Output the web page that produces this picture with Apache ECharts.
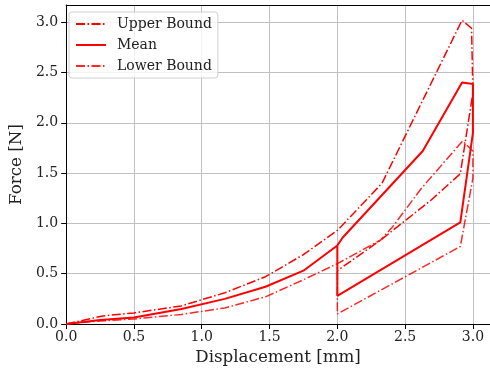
<!DOCTYPE html>
<html><head><meta charset="utf-8">
<script src="https://cdn.jsdelivr.net/npm/echarts@6/dist/echarts.min.js"></script>
<style>html,body{margin:0;padding:0;background:#fff}#c{width:490px;height:371px}</style>
</head><body><div id="c"></div>
<script>
const xTicks = [0, 0.5, 1.0, 1.5, 2.0, 2.5, 3.0];
const yTicks = [0, 0.5, 1.0, 1.5, 2.0, 2.5, 3.0];
const upperX = [0, 0.27, 0.5, 0.85, 1.17, 1.47, 1.75, 2.0, 2.33, 2.92, 2.99, 3.0, 2.907, 2.69, 2.32, 2.0];
const upperY = [0, 0.08, 0.11, 0.18, 0.31, 0.47, 0.69, 0.93, 1.40, 3.02, 2.94, 2.3, 1.494, 1.23, 0.835, 0.53];
const meanX = [0, 0.25, 0.5, 0.85, 1.17, 1.47, 1.75, 2.0, 2.04, 2.63, 2.92, 3.0, 3.0, 2.907, 2.0, 2.0];
const meanY = [0, 0.04, 0.065, 0.15, 0.25, 0.37, 0.53, 0.78, 0.86, 1.72, 2.40, 2.385, 1.9, 1.01, 0.28, 0.78];
const lowerX = [0, 0.25, 0.5, 0.85, 1.17, 1.47, 1.75, 2.0, 2.32, 2.41, 2.615, 2.924, 3.0, 3.0, 2.907, 2.0, 2.0];
const lowerY = [0, 0.03, 0.05, 0.095, 0.16, 0.27, 0.44, 0.6, 0.835, 0.97, 1.34, 1.82, 1.72, 1.45, 0.77, 0.1, 0.6];

const pairs = (xs, ys) => xs.map((x, i) => [x, ys[i]]);
const FONT = 'DejaVu Serif';
const dashDot = [9, 2.5, 1.5, 2.5];
const chart = echarts.init(document.getElementById('c'), null, {renderer: 'canvas'});
const fmt = v => v.toFixed(1);
chart.setOption({
  animation: false,
  backgroundColor: '#fff',
  grid: {left: 62, right: 0, top: 5, bottom: 47, containLabel: false},
  legend: {
    left: 69, top: 12, orient: 'vertical', padding: [5, 6, 5, 6],
    itemWidth: 30, itemHeight: 14, itemGap: 7,
    backgroundColor: 'rgba(255,255,255,0.8)', borderColor: '#d0d0d0', borderWidth: 1, borderRadius: 3,
    itemStyle: {opacity: 0},
    textStyle: {fontFamily: FONT, fontSize: 14, color: '#222', padding: [0, 0, 0, 6]},
    data: ['Upper Bound', 'Mean', 'Lower Bound']
  },
  xAxis: [{
    type: 'value', min: 0, max: 3.126, interval: 0.5,
    name: 'Displacement [mm]', nameLocation: 'middle', nameGap: 20,
    nameTextStyle: {fontFamily: FONT, fontSize: 16.7, color: '#222'},
    axisLine: {show: true, lineStyle: {color: '#000', width: 1}},
    axisTick: {show: true, length: 5, customValues: xTicks, lineStyle: {color: '#000'}},
    axisLabel: {customValues: xTicks, formatter: fmt, fontFamily: FONT, fontSize: 14, color: '#222', margin: 6},
    splitLine: {show: true, lineStyle: {color: '#c0c0c0', width: 1}}
  }, {
    type: 'value', position: 'top', min: 0, max: 3.126,
    axisLine: {show: true, lineStyle: {color: '#000', width: 1}},
    axisTick: {show: false}, axisLabel: {show: false}, splitLine: {show: false}
  }],
  yAxis: {
    type: 'value', min: 0, max: 3.171, interval: 0.5,
    name: 'Force [N]', nameLocation: 'middle', nameGap: 32, nameRotate: 90,
    nameTextStyle: {fontFamily: FONT, fontSize: 16.7, color: '#222'},
    axisLine: {show: true, lineStyle: {color: '#000', width: 1}},
    axisTick: {show: true, length: 5, customValues: yTicks, lineStyle: {color: '#000'}},
    axisLabel: {customValues: yTicks, formatter: fmt, fontFamily: FONT, fontSize: 14, color: '#222', margin: 8},
    splitLine: {show: true, lineStyle: {color: '#c0c0c0', width: 1}}
  },
  series: [
    {name: 'Upper Bound', type: 'line', symbol: 'none', data: pairs(upperX, upperY),
     lineStyle: {color: '#ff0000', width: 1.5, type: dashDot}, itemStyle: {color: '#ff0000'}},
    {name: 'Mean', type: 'line', symbol: 'none', data: pairs(meanX, meanY),
     lineStyle: {color: '#ff0000', width: 2}, itemStyle: {color: '#ff0000'}},
    {name: 'Lower Bound', type: 'line', symbol: 'none', data: pairs(lowerX, lowerY),
     lineStyle: {color: '#ff0000', width: 1.5, type: dashDot, opacity: 0.85}, itemStyle: {color: '#ff0000'}}
  ]
});
</script></body></html>
